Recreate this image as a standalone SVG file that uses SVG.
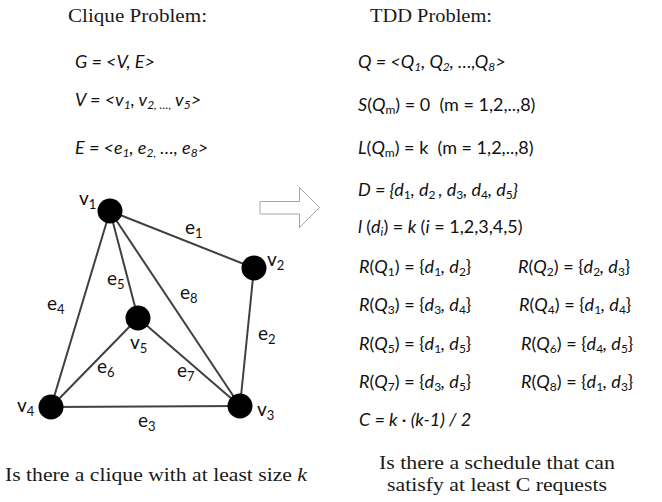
<svg xmlns="http://www.w3.org/2000/svg" width="662" height="502" viewBox="0 0 662 502">
<style>
.serif{font-family:"Liberation Serif","DejaVu Serif",serif;font-size:19.5px;fill:#1a1a1a}
.m{font-family:Lato,"Liberation Sans",sans-serif;font-size:18px;font-style:italic;fill:#111}
.u{font-style:normal}
.s{font-size:12px}
.lbl{font-family:Lato,"Liberation Sans",sans-serif;font-size:19px;fill:#111}
.ls{font-size:13px}
.edge{stroke:#404040;stroke-width:2;fill:none}
.node{fill:#000}
</style>
<rect width="662" height="502" fill="#fff"/>
<text class="serif" x="68" y="22" textLength="139" lengthAdjust="spacingAndGlyphs">Clique Problem:</text>
<text class="serif" x="370" y="22" textLength="122" lengthAdjust="spacingAndGlyphs">TDD Problem:</text>

<g id="clique-defs">
<text class="m" x="75" y="68">G = &lt;V, E&gt;</text>
<text class="m" x="75" y="106">V = &lt;v<tspan class="s" dy="3">1</tspan><tspan dy="-3">, v</tspan><tspan class="s" dy="3">2, …,</tspan><tspan dy="-3"> v</tspan><tspan class="s" dy="3">5</tspan><tspan dy="-3">&gt;</tspan></text>
<text class="m" x="75" y="154">E = &lt;e<tspan class="s" dy="3">1</tspan><tspan dy="-3">, e</tspan><tspan class="s" dy="3">2,</tspan><tspan dy="-3"> …, e</tspan><tspan class="s" dy="3">8</tspan><tspan dy="-3">&gt;</tspan></text>
</g>

<g id="tdd-defs">
<text class="m" x="358" y="68">Q = &lt;Q<tspan class="s" dy="3">1</tspan><tspan dy="-3">, Q</tspan><tspan class="s" dy="3">2</tspan><tspan dy="-3">, …,Q</tspan><tspan class="s" dy="3">8</tspan><tspan dy="-3">&gt;</tspan></text>
<text class="m" x="358" y="111" xml:space="preserve">S<tspan class="u">(</tspan>Q<tspan class="s u" dy="3">m</tspan><tspan class="u" dy="-3">) = 0  (m = 1,2,..,8)</tspan></text>
<text class="m" x="358" y="154" xml:space="preserve">L<tspan class="u">(</tspan>Q<tspan class="s u" dy="3">m</tspan><tspan class="u" dy="-3">) = k  (m = 1,2,..,8)</tspan></text>
<text class="m" x="358" y="196" xml:space="preserve">D = {d<tspan class="s u" dy="3">1</tspan><tspan dy="-3">, d</tspan><tspan class="s u" dy="3">2 </tspan><tspan dy="-3">, d</tspan><tspan class="s u" dy="3">3</tspan><tspan dy="-3">, d</tspan><tspan class="s u" dy="3">4</tspan><tspan dy="-3">, d</tspan><tspan class="s u" dy="3">5</tspan><tspan dy="-3">}</tspan></text>
<text class="m" x="358" y="233" xml:space="preserve">l <tspan class="u">(</tspan>d<tspan class="s" dy="3">i</tspan><tspan class="u" dy="-3">) = </tspan>k <tspan class="u">(</tspan>i<tspan class="u"> = 1,2,3,4,5)</tspan></text>
</g>

<g id="requests">
<text class="m" x="359" y="273" xml:space="preserve">R<tspan class="u">(</tspan>Q<tspan class="s u" dy="3">1</tspan><tspan class="u" dy="-3">) = {</tspan>d<tspan class="s u" dy="3">1</tspan><tspan dy="-3">, d</tspan><tspan class="s u" dy="3">2</tspan><tspan class="u" dy="-3">}</tspan></text>
<text class="m" x="518" y="273" xml:space="preserve">R<tspan class="u">(</tspan>Q<tspan class="s u" dy="3">2</tspan><tspan class="u" dy="-3">) = {</tspan>d<tspan class="s u" dy="3">2</tspan><tspan dy="-3">, d</tspan><tspan class="s u" dy="3">3</tspan><tspan class="u" dy="-3">}</tspan></text>
<text class="m" x="359" y="311" xml:space="preserve">R<tspan class="u">(</tspan>Q<tspan class="s u" dy="3">3</tspan><tspan class="u" dy="-3">) = {</tspan>d<tspan class="s u" dy="3">3</tspan><tspan dy="-3">, d</tspan><tspan class="s u" dy="3">4</tspan><tspan class="u" dy="-3">}</tspan></text>
<text class="m" x="519" y="311" xml:space="preserve">R<tspan class="u">(</tspan>Q<tspan class="s u" dy="3">4</tspan><tspan class="u" dy="-3">) = {</tspan>d<tspan class="s u" dy="3">1</tspan><tspan dy="-3">, d</tspan><tspan class="s u" dy="3">4</tspan><tspan class="u" dy="-3">}</tspan></text>
<text class="m" x="359" y="350" xml:space="preserve">R<tspan class="u">(</tspan>Q<tspan class="s u" dy="3">5</tspan><tspan class="u" dy="-3">) = {</tspan>d<tspan class="s u" dy="3">1</tspan><tspan dy="-3">, d</tspan><tspan class="s u" dy="3">5</tspan><tspan class="u" dy="-3">}</tspan></text>
<text class="m" x="521" y="350" xml:space="preserve">R<tspan class="u">(</tspan>Q<tspan class="s u" dy="3">6</tspan><tspan class="u" dy="-3">) = {</tspan>d<tspan class="s u" dy="3">4</tspan><tspan dy="-3">, d</tspan><tspan class="s u" dy="3">5</tspan><tspan class="u" dy="-3">}</tspan></text>
<text class="m" x="359" y="388" xml:space="preserve">R<tspan class="u">(</tspan>Q<tspan class="s u" dy="3">7</tspan><tspan class="u" dy="-3">) = {</tspan>d<tspan class="s u" dy="3">3</tspan><tspan dy="-3">, d</tspan><tspan class="s u" dy="3">5</tspan><tspan class="u" dy="-3">}</tspan></text>
<text class="m" x="521" y="388" xml:space="preserve">R<tspan class="u">(</tspan>Q<tspan class="s u" dy="3">8</tspan><tspan class="u" dy="-3">) = {</tspan>d<tspan class="s u" dy="3">1</tspan><tspan dy="-3">, d</tspan><tspan class="s u" dy="3">3</tspan><tspan class="u" dy="-3">}</tspan></text>
<text class="m" x="359" y="426">C = k · (k-1) / 2</text>
</g>

<polygon id="arrow" points="260,201.5 299.5,201.5 299.5,187.5 319.5,207.5 299.5,227.5 299.5,214 260,214" fill="#fff" stroke="#a6a6a6" stroke-width="1"/>

<g id="connectors">
<line class="edge" x1="110" y1="211" x2="254" y2="268"/>
<line class="edge" x1="254" y1="268" x2="240" y2="406"/>
<line class="edge" x1="51" y1="407" x2="240" y2="406"/>
<line class="edge" x1="110" y1="211" x2="51" y2="407"/>
<line class="edge" x1="110" y1="211" x2="138" y2="318"/>
<line class="edge" x1="138" y1="318" x2="51" y2="407"/>
<line class="edge" x1="138" y1="318" x2="240" y2="406"/>
<line class="edge" x1="110" y1="211" x2="240" y2="406"/>
</g>
<g id="edge-labels">
<text class="lbl" x="185" y="234">e<tspan class="ls" dy="4">1</tspan></text>
<text class="lbl" x="258" y="340">e<tspan class="ls" dy="4">2</tspan></text>
<text class="lbl" x="138" y="427">e<tspan class="ls" dy="4">3</tspan></text>
<text class="lbl" x="47" y="310">e<tspan class="ls" dy="4">4</tspan></text>
<text class="lbl" x="107" y="285">e<tspan class="ls" dy="4">5</tspan></text>
<text class="lbl" x="97" y="373">e<tspan class="ls" dy="4">6</tspan></text>
<text class="lbl" x="177" y="377">e<tspan class="ls" dy="4">7</tspan></text>
<text class="lbl" x="180" y="299">e<tspan class="ls" dy="4">8</tspan></text>
</g>
<g id="v1"><circle class="node" cx="110" cy="211" r="12.5"/><text class="lbl" x="79" y="205">v<tspan class="ls" dy="4">1</tspan></text></g>
<g id="v2"><circle class="node" cx="254" cy="268" r="12.5"/><text class="lbl" x="267" y="266">v<tspan class="ls" dy="4">2</tspan></text></g>
<g id="v3"><circle class="node" cx="240" cy="406" r="12.5"/><text class="lbl" x="257" y="416">v<tspan class="ls" dy="4">3</tspan></text></g>
<g id="v4"><circle class="node" cx="51" cy="407" r="12.5"/><text class="lbl" x="17" y="412">v<tspan class="ls" dy="4">4</tspan></text></g>
<g id="v5"><circle class="node" cx="138" cy="318" r="12.5"/><text class="lbl" x="130" y="349">v<tspan class="ls" dy="4">5</tspan></text></g>

<text class="serif" x="5" y="481" textLength="302" lengthAdjust="spacingAndGlyphs">Is there a clique with at least size <tspan font-style="italic">k</tspan></text>
<text class="serif" x="379" y="469" textLength="236" lengthAdjust="spacingAndGlyphs">Is there a schedule that can</text>
<text class="serif" x="387" y="491" textLength="220" lengthAdjust="spacingAndGlyphs">satisfy at least C requests</text>
</svg>
